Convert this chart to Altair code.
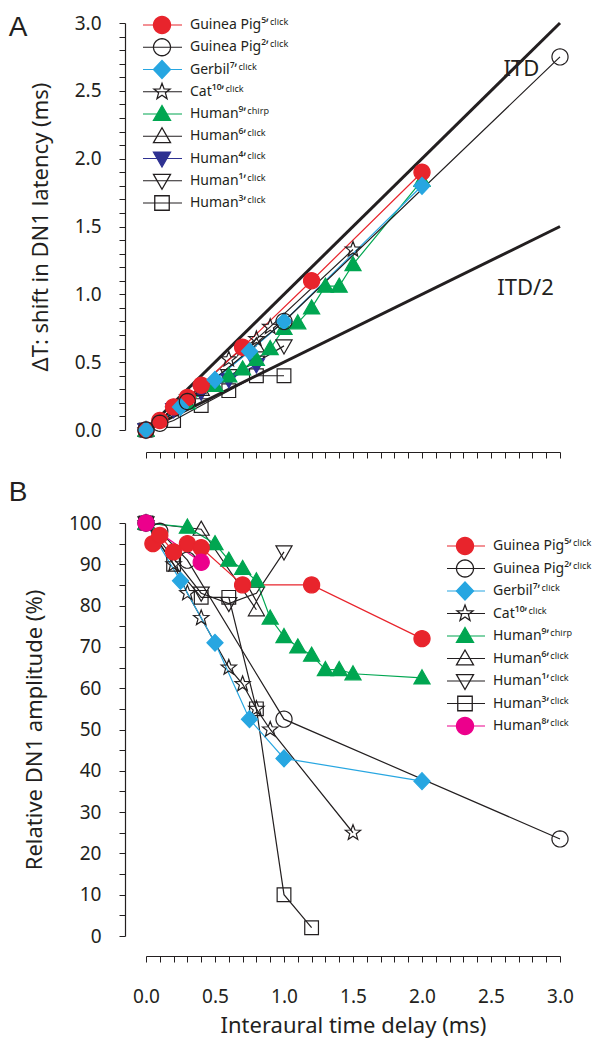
import math
import altair as alt
import pandas as pd

# ---------------- series identity ----------------
keys = ["gp5", "gp2", "gerbil", "cat", "h9", "h6", "h4", "h1", "h3", "h8"]
labels = [
    "Guinea Pig⁵ʼ\u200aᶜˡⁱᶜᵏ",
    "Guinea Pig²ʼ\u200aᶜˡⁱᶜᵏ",
    "Gerbil⁷ʼ\u200aᶜˡⁱᶜᵏ",
    "Cat¹⁰ʼ\u200aᶜˡⁱᶜᵏ",
    "Human⁹ʼ\u200aᶜʰⁱʳᵖ",
    "Human⁶ʼ\u200aᶜˡⁱᶜᵏ",
    "Human⁴ʼ\u200aᶜˡⁱᶜᵏ",
    "Human¹ʼ\u200aᶜˡⁱᶜᵏ",
    "Human³ʼ\u200aᶜˡⁱᶜᵏ",
    "Human⁸ʼ\u200aᶜˡⁱᶜᵏ",
]
top_legend_keys = ["gp5", "gp2", "gerbil", "cat", "h9", "h6", "h4", "h1", "h3"]
bottom_legend_keys = ["gp5", "gp2", "gerbil", "cat", "h9", "h6", "h1", "h3", "h8"]

# ---------------- panel A: shift in DN1 latency (ms) ----------------
gp5_x_a = [0, 0.1, 0.2, 0.3, 0.4, 0.7, 1.2, 2.0]
gp5_y_a = [0, 0.07, 0.17, 0.24, 0.33, 0.61, 1.10, 1.90]
gp2_x_a = [0, 0.1, 0.3, 1.0, 3.0]
gp2_y_a = [0, 0.05, 0.21, 0.80, 2.75]
gerbil_x_a = [0, 0.25, 0.5, 0.75, 1.0, 2.0]
gerbil_y_a = [0, 0.17, 0.37, 0.58, 0.80, 1.80]
cat_x_a = [0, 0.2, 0.3, 0.4, 0.6, 0.7, 0.8, 0.9, 1.5]
cat_y_a = [0, 0.15, 0.24, 0.32, 0.52, 0.60, 0.67, 0.76, 1.33]
h9_x_a = [0, 0.3, 0.5, 0.6, 0.7, 0.8, 0.9, 1.0, 1.1, 1.2, 1.3, 1.4, 1.5, 2.0]
h9_y_a = [0, 0.20, 0.33, 0.40, 0.45, 0.52, 0.60, 0.75, 0.79, 0.90, 1.06, 1.06, 1.22, 1.84]
h6_x_a = [0, 0.4, 0.8]
h6_y_a = [0, 0.30, 0.62]
h4_x_a = [0, 0.2, 0.4, 0.6, 0.8]
h4_y_a = [0, 0.15, 0.28, 0.37, 0.48]
h1_x_a = [0, 0.4, 0.6, 0.8, 1.0]
h1_y_a = [0, 0.28, 0.40, 0.50, 0.62]
h3_x_a = [0, 0.2, 0.4, 0.6, 0.8, 1.0]
h3_y_a = [0, 0.07, 0.18, 0.29, 0.40, 0.40]

# reference lines
itd_x = [0, 3]
itd_y = [0, 3]
itd_half_y = [0, 1.5]
ref_names = ["ITD", "ITD/2"]
ref_label_x = [2.72, 2.75]
ref_label_y = [2.66, 1.05]

# ---------------- panel B: relative DN1 amplitude (%) ----------------
gp5_x_b = [0.05, 0.1, 0.2, 0.3, 0.4, 0.7, 1.2, 2.0]
gp5_y_b = [95, 97, 93, 95, 94, 85, 85, 72]
gp2_x_b = [0, 0.1, 0.3, 1.0, 3.0]
gp2_y_b = [100, 98, 91, 52.5, 23.5]
gerbil_x_b = [0, 0.25, 0.5, 0.75, 1.0, 2.0]
gerbil_y_b = [100, 86, 71, 52.5, 43, 37.5]
cat_x_b = [0, 0.2, 0.3, 0.4, 0.6, 0.7, 0.8, 0.9, 1.5]
cat_y_b = [100, 90, 83, 77, 65, 61, 55, 50, 25]
h9_x_b = [0, 0.3, 0.5, 0.6, 0.7, 0.8, 0.9, 1.0, 1.1, 1.2, 1.3, 1.4, 1.5, 2.0]
h9_y_b = [100, 99, 95, 91, 89, 86, 77, 72.5, 70, 68, 64.5, 64.5, 63.5, 62.5]
h6_x_b = [0, 0.4, 0.8]
h6_y_b = [100, 98.5, 79]
h1_x_b = [0, 0.4, 0.6, 0.8, 1.0]
h1_y_b = [100, 83, 80.5, 83, 93]
h3_x_b = [0, 0.2, 0.4, 0.6, 0.8, 1.0, 1.2]
h3_y_b = [100, 90, 82, 82, 55, 10, 2]
h8_x_b = [0, 0.4]
h8_y_b = [100, 90.5]

# ---------------- styles ----------------
INK = "#231f20"
stroke_colors = ["#e8242c", INK, "#27a6e1", INK, "#00a651", INK, "#2e3192", INK, INK, "#ec008c"]
fill_colors = ["#e8242c", "transparent", "#27a6e1", "transparent", "#00a651",
               "transparent", "#2e3192", "transparent", "transparent", "#ec008c"]


def poly(points):
    return "M" + "L".join(f"{px:.3f},{py:.3f}" for px, py in points) + "Z"


circle_path = poly([(math.cos(2 * math.pi * i / 32), math.sin(2 * math.pi * i / 32)) for i in range(32)])
diamond_path = poly([(0, -1.05), (1.0, 0), (0, 1.05), (-1.0, 0)])
square_path = poly([(-0.85, -0.85), (0.85, -0.85), (0.85, 0.85), (-0.85, 0.85)])
tri_up_path = poly([(0, -1.0), (1.0, 0.75), (-1.0, 0.75)])
tri_down_path = poly([(0, 1.0), (1.0, -0.75), (-1.0, -0.75)])
star_path = poly([
    ((1.0 if i % 2 == 0 else 0.42) * math.cos(-math.pi / 2 + i * math.pi / 5),
     (1.0 if i % 2 == 0 else 0.42) * math.sin(-math.pi / 2 + i * math.pi / 5))
    for i in range(10)
])
shape_paths = [circle_path, circle_path, diamond_path, star_path, tri_up_path,
               tri_up_path, tri_down_path, tri_down_path, square_path, circle_path]

shape_scale = alt.Scale(domain=keys, range=shape_paths)
stroke_scale = alt.Scale(domain=keys, range=stroke_colors)
fill_scale = alt.Scale(domain=keys, range=fill_colors)


def long_df(items):
    rows = []
    for key, xs, ys in items:
        for xv, yv in zip(xs, ys):
            rows.append({"key": key, "x": xv, "y": yv})
    return pd.DataFrame(rows)


top_df = long_df([
    ("h3", h3_x_a, h3_y_a), ("h1", h1_x_a, h1_y_a), ("h4", h4_x_a, h4_y_a),
    ("h6", h6_x_a, h6_y_a), ("h9", h9_x_a, h9_y_a), ("cat", cat_x_a, cat_y_a),
    ("gp5", gp5_x_a, gp5_y_a), ("gerbil", gerbil_x_a, gerbil_y_a), ("gp2", gp2_x_a, gp2_y_a),
])
bottom_df = long_df([
    ("h3", h3_x_b, h3_y_b), ("h1", h1_x_b, h1_y_b), ("h6", h6_x_b, h6_y_b),
    ("h9", h9_x_b, h9_y_b), ("cat", cat_x_b, cat_y_b), ("gerbil", gerbil_x_b, gerbil_y_b),
    ("gp2", gp2_x_b, gp2_y_b), ("gp5", gp5_x_b, gp5_y_b), ("h8", h8_x_b, h8_y_b),
])
ref_df = pd.DataFrame({
    "ref": [ref_names[0]] * 2 + [ref_names[1]] * 2,
    "x": itd_x + itd_x,
    "y": itd_y + itd_half_y,
})
ref_text_df = pd.DataFrame({"label": ref_names, "x": ref_label_x, "y": ref_label_y})

label_of = dict(zip(keys, labels))
top_leg_df = pd.DataFrame({"key": top_legend_keys,
                           "label": [label_of[k] for k in top_legend_keys],
                           "row": list(range(len(top_legend_keys)))})
bottom_leg_df = pd.DataFrame({"key": bottom_legend_keys,
                              "label": [label_of[k] for k in bottom_legend_keys],
                              "row": list(range(len(bottom_legend_keys)))})

ticks_ms = [round(i * 0.1, 1) for i in range(31)]
ticks_pct = list(range(0, 101, 5))

W = 414

X_top = alt.X("x:Q", scale=alt.Scale(domain=[0, 3], nice=False),
              axis=alt.Axis(values=ticks_ms, labels=False, title=None, offset=22, tickSize=6))
Y_top = alt.Y("y:Q", scale=alt.Scale(domain=[0, 3], nice=False),
              axis=alt.Axis(values=ticks_ms, offset=21, tickSize=6, labelPadding=18,
                            labelExpr="round(datum.value * 10) % 5 === 0 ? format(datum.value, '.1f') : ''",
                            title="ΔT: shift in DN1 latency (ms)", titlePadding=22))
X_bot = alt.X("x:Q", scale=alt.Scale(domain=[0, 3], nice=False),
              axis=alt.Axis(values=ticks_ms, offset=20, tickSize=6, labelPadding=25,
                            labelExpr="round(datum.value * 10) % 5 === 0 ? format(datum.value, '.1f') : ''",
                            title="Interaural time delay (ms)", titlePadding=9))
Y_bot = alt.Y("y:Q", scale=alt.Scale(domain=[0, 100], nice=False),
              axis=alt.Axis(values=ticks_pct, offset=21, tickSize=6, labelPadding=18,
                            labelExpr="datum.value % 10 === 0 ? format(datum.value, 'd') : ''",
                            title="Relative DN1 amplitude (%)", titlePadding=22))


def data_layers(df, X, Y):
    lines = alt.Chart(df).mark_line(strokeWidth=1.2).encode(
        x=X, y=Y, stroke=alt.Stroke("key:N", scale=stroke_scale, legend=None))
    pts = alt.Chart(df).mark_point(opacity=1, size=260, strokeWidth=1.2).encode(
        x=X, y=Y,
        shape=alt.Shape("key:N", scale=shape_scale, legend=None),
        stroke=alt.Stroke("key:N", scale=stroke_scale, legend=None),
        fill=alt.Fill("key:N", scale=fill_scale, legend=None))
    return lines, pts


def legend_layers(df, top_px, step_px, sym_x, line_x0, line_x1, text_x):
    base = alt.Chart(df).transform_calculate(py=f"{top_px} + datum.row * {step_px}")
    Yp = alt.Y("py:Q", scale=None)
    ln = base.mark_rule(strokeWidth=1.2).encode(
        x=alt.value(line_x0), x2=alt.value(line_x1), y=Yp,
        stroke=alt.Stroke("key:N", scale=stroke_scale, legend=None))
    sy = base.mark_point(opacity=1, size=290, strokeWidth=1.3).encode(
        x=alt.value(sym_x), y=Yp,
        shape=alt.Shape("key:N", scale=shape_scale, legend=None),
        stroke=alt.Stroke("key:N", scale=stroke_scale, legend=None),
        fill=alt.Fill("key:N", scale=fill_scale, legend=None))
    tx = base.mark_text(align="left", baseline="middle", fontSize=14, font="Noto Sans",
                        color=INK).encode(x=alt.value(text_x), y=Yp, text="label:N")
    return ln, sy, tx


def letter(t, x_px, y_px):
    return alt.Chart(pd.DataFrame({"t": [t]})).mark_text(
        fontSize=28, font="Liberation Sans", align="center", baseline="alphabetic", color=INK
    ).encode(x=alt.value(x_px), y=alt.value(y_px), text="t:N")


ref_lines = alt.Chart(ref_df).mark_line(color=INK, strokeWidth=3).encode(x=X_top, y=Y_top, detail="ref:N")
ref_text = alt.Chart(ref_text_df).mark_text(fontSize=22, font="Noto Sans", color=INK).encode(
    x=X_top, y=Y_top, text="label:N")
l_top, p_top = data_layers(top_df, X_top, Y_top)
lg_top = legend_layers(top_leg_df, 2, 22.25, 16, -3, 36, 44)

top = alt.layer(ref_lines, l_top, p_top, ref_text, *lg_top, letter("A", -128, 13)).properties(
    width=W, height=407)

l_bot, p_bot = data_layers(bottom_df, X_bot, Y_bot)
lg_bot = legend_layers(bottom_leg_df, 23, 22.5, 319, 301, 339, 347)
bottom = alt.layer(l_bot, p_bot, *lg_bot, letter("B", -128, -22)).properties(width=W, height=413)

chart = alt.vconcat(top, bottom, spacing=20).resolve_scale(
    x="independent", y="independent"
).properties(
    padding={"left": 0, "top": 5, "right": 0, "bottom": 2}
).configure_view(stroke=None).configure_axis(
    labelFont="Noto Sans", titleFont="Noto Sans", labelFontSize=19, titleFontSize=22,
    titleFontWeight="normal", labelColor=INK, titleColor=INK, domainColor=INK,
    tickColor=INK, domainWidth=1.2, tickWidth=1, grid=False, labelOverlap=False,
    labelFlush=False,
)

chart.save("out.html", embed_options={"renderer": "svg", "actions": False})
